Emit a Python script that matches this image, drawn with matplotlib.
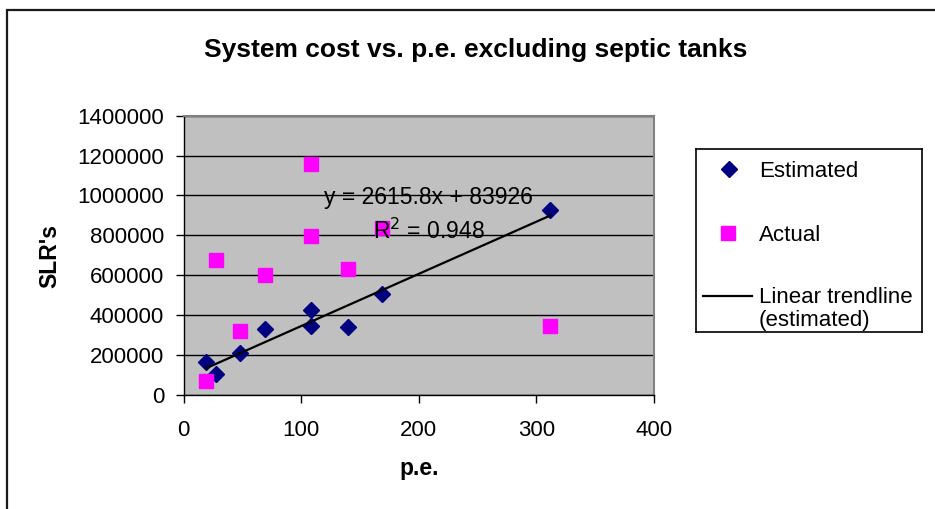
import matplotlib
matplotlib.use("Agg")
import matplotlib.pyplot as plt
from matplotlib.patches import Rectangle

plt.rcParams['font.family'] = ['Liberation Sans', 'DejaVu Sans']

# Population equivalent of each system and its cost
pe = [19, 28, 48, 69, 108, 108, 140, 169, 312]
estimated = [164000, 104000, 209000, 333000, 426000, 346000, 343000, 505000, 928000]
actual = [72000, 677000, 323000, 599000, 1158000, 798000, 634000, 836000, 346000]

# Linear trendline fitted to the estimated costs
slope = 2615.8
intercept = 83926
r_squared = 0.948

x_ticks = [0, 100, 200, 300, 400]
y_ticks = [0, 200000, 400000, 600000, 800000, 1000000, 1200000, 1400000]

EST_COLOR = '#000080'
ACT_COLOR = '#FF00FF'

W, H = 935, 509
fig = plt.figure(figsize=(W / 100, H / 100), dpi=100)
fig.patch.set_facecolor('white')

# Chart-area border
fig.add_artist(Rectangle((7 / W, -0.1), 1.2, 1 - 10 / H + 0.1,
                         transform=fig.transFigure, fill=False,
                         edgecolor='#1a1a1a', linewidth=1.6))

ax = fig.add_axes([183.5 / W, 1 - 395 / H, (654 - 183.5) / W, (395 - 115.7) / H])
ax.set_facecolor('#C0C0C0')
ax.set_xlim(0, 400)
ax.set_ylim(0, 1400000)
ax.set_xticks(x_ticks)
ax.set_yticks(y_ticks)
ax.set_xticklabels([str(v) for v in x_ticks])
ax.set_yticklabels([str(v) for v in y_ticks])
ax.tick_params(axis='both', labelsize=16, direction='out', length=6, width=1, color='black')
ax.tick_params(axis='x', pad=12)
ax.tick_params(axis='y', pad=8)
for s in ax.spines.values():
    s.set_color('#808080')
    s.set_linewidth(1.5)
ax.spines['bottom'].set_color('black')
ax.spines['left'].set_color('black')
ax.spines['bottom'].set_linewidth(1)
ax.spines['left'].set_linewidth(1)
ax.yaxis.grid(True, color='black', linewidth=1)
ax.set_axisbelow(True)

ax.plot(pe, estimated, linestyle='none', marker='D', markersize=8.5,
        color=EST_COLOR, zorder=3)
ax.plot(pe, actual, linestyle='none', marker='s', markersize=10.5,
        color=ACT_COLOR, zorder=3)

x0, x1 = min(pe), max(pe)
ax.plot([x0, x1], [slope * x0 + intercept, slope * x1 + intercept],
        color='black', linewidth=1.6, zorder=4)

ax.text(208.5, 903000, f"y = {slope}x + {intercept}\nR$^2$ = {r_squared}",
        ha='center', va='center', multialignment='center', fontsize=16.5,
        linespacing=1.5, zorder=5)

fig.text(476 / W, 1 - 50 / H, "System cost vs. p.e. excluding septic tanks",
         ha='center', va='center', fontsize=19, fontweight='bold')
fig.text(50 / W, 1 - 256 / H, "SLR's", ha='center', va='center',
         rotation=90, fontsize=16.5, fontweight='bold')
fig.text(419 / W, 1 - 469 / H, "p.e.", ha='center', va='center',
         fontsize=16.5, fontweight='bold')

# Legend panel, laid out in its own pixel-based coordinates
lg = fig.add_axes([696 / W, 1 - 332 / H, (922 - 696) / W, (332 - 149) / H])
lg.set_xlim(696, 922)
lg.set_ylim(332, 149)
lg.set_xticks([])
lg.set_yticks([])
lg.set_facecolor('white')
for s in lg.spines.values():
    s.set_color('black')
    s.set_linewidth(1.2)

lg.plot([729], [169], linestyle='none', marker='D', markersize=8.5, color=EST_COLOR)
lg.text(759, 169, "Estimated", va='center_baseline', ha='left', fontsize=16)
lg.plot([728], [233], linestyle='none', marker='s', markersize=10.5, color=ACT_COLOR)
lg.text(759, 233, "Actual", va='center_baseline', ha='left', fontsize=16)
lg.plot([703, 752], [296, 296], color='black', linewidth=1.6)
lg.text(759, 309, "Linear trendline\n(estimated)", va='center', ha='left',
        fontsize=16, linespacing=1.1)

fig.savefig("out.png", dpi=100)
